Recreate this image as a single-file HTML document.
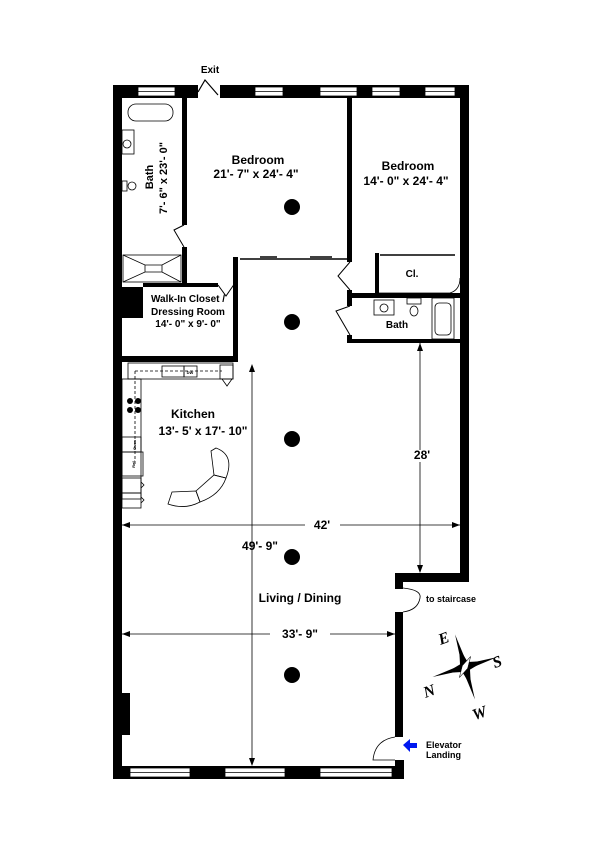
<!DOCTYPE html>
<html><head><meta charset="utf-8"><style>html,body{margin:0;padding:0;background:#fff}svg{display:block}text{font-family:"Liberation Sans",Arial,sans-serif;font-weight:bold;fill:#000}</style></head>
<body>
<svg width="600" height="847" viewBox="0 0 600 847" xmlns="http://www.w3.org/2000/svg">
<g fill="#000">
<rect x="113" y="85" width="85" height="13"/>
<rect x="220" y="85" width="249" height="13"/>
<rect x="113" y="85" width="9" height="694"/>
<rect x="460" y="85" width="9" height="497"/>
<rect x="395" y="573" width="74" height="9"/>
<rect x="395" y="573" width="8" height="16"/>
<rect x="395" y="612" width="8" height="125"/>
<rect x="395" y="760" width="9" height="19"/>
<rect x="113" y="766" width="291" height="13"/>
<rect x="113" y="693" width="17" height="42"/>
<rect x="113" y="287" width="30" height="31"/>
<rect x="182" y="98" width="5" height="127"/>
<rect x="182" y="247" width="5" height="40"/>
<rect x="143" y="283" width="75" height="4"/>
<rect x="233" y="257" width="5" height="105"/>
<rect x="122" y="356" width="116" height="6"/>
<rect x="347" y="98" width="5" height="164"/>
<rect x="347" y="290" width="5" height="16"/>
<rect x="347" y="293" width="113" height="5"/>
<rect x="347" y="335" width="5" height="8"/>
<rect x="347" y="339" width="113" height="4"/>
<rect x="375" y="253" width="4" height="40"/>
</g>
<g fill="#fff" stroke="#000" stroke-width="0.8">
<rect x="138" y="87" width="37" height="9"/>
<rect x="255" y="87" width="28" height="9"/>
<rect x="320" y="87" width="37" height="9"/>
<rect x="372" y="87" width="28" height="9"/>
<rect x="425" y="87" width="30" height="9"/>
<rect x="130" y="768" width="60" height="9"/>
<rect x="225" y="768" width="60" height="9"/>
<rect x="320" y="768" width="72" height="9"/>
</g>
<g stroke="#000" stroke-width="0.8" fill="none">
<line x1="138" y1="91.5" x2="175" y2="91.5"/><line x1="255" y1="91.5" x2="283" y2="91.5"/><line x1="320" y1="91.5" x2="357" y2="91.5"/><line x1="372" y1="91.5" x2="400" y2="91.5"/><line x1="425" y1="91.5" x2="455" y2="91.5"/>
<line x1="130" y1="772.5" x2="190" y2="772.5"/><line x1="225" y1="772.5" x2="285" y2="772.5"/><line x1="320" y1="772.5" x2="392" y2="772.5"/>
<polyline points="198,92 205,80 218,95" stroke-width="1.2"/>
<polyline points="184,225 174,230 184,247" stroke-width="1"/>
<polyline points="218,285 226,296 235,283" stroke-width="1"/>
<polyline points="350,262 338,276 350,290" stroke-width="1"/>
<polyline points="350,306 336,311 350,335" stroke-width="1"/>
<line x1="240" y1="259" x2="347" y2="259" stroke-width="1.5"/>
<line x1="260" y1="257" x2="277" y2="257" stroke-width="1.5"/>
<line x1="310" y1="257" x2="332" y2="257" stroke-width="1.5"/>
<line x1="380" y1="255" x2="455" y2="255" stroke-width="1.5"/>
<path d="M379 293 H450 Q460 290 460 278"/>
<rect x="128" y="104" width="45" height="17" rx="8"/>
<rect x="122" y="130" width="12" height="24"/>
<circle cx="127" cy="144" r="4"/>
<rect x="122" y="181" width="5" height="10"/><circle cx="132" cy="186" r="4"/>
<rect x="123" y="255" width="58" height="27"/>
<path d="M123 255 L145 265 H162 L181 255 M123 282 L145 272 H162 L181 282 M145 265 V272 M162 265 V272"/>
<rect x="374" y="300" width="20" height="15"/><circle cx="384" cy="308" r="4"/>
<rect x="407" y="298" width="14" height="6"/><ellipse cx="414" cy="311" rx="4" ry="5"/>
<rect x="432" y="298" width="22" height="41"/><rect x="435" y="303" width="16" height="32" rx="4"/>
<rect x="128" y="363" width="105" height="16"/>
<rect x="122" y="379" width="19" height="120"/>
<path d="M135 371 H222 M135 371 V465" stroke-dasharray="3,2"/>
<rect x="162" y="366" width="22" height="11"/>
<rect x="184" y="366" width="13" height="11"/>
<rect x="220" y="365" width="13" height="14"/>
<path d="M222 379 L227 386 L232 379"/>
<rect x="122" y="437" width="19" height="15"/>
<rect x="122" y="452" width="21" height="24"/>
<rect x="122" y="478" width="19" height="15"/><rect x="122" y="493" width="19" height="15"/>
<path d="M141 482 l3 3 l-3 3 M141 497 l3 3 l-3 3"/>
<path d="M216 448 Q235 455 226 478 L214 475 L211 451 Z"/>
<path d="M214 475 L226 478 Q220 495 200 502 L196 491 Z"/>
<path d="M196 491 L200 502 Q185 510 168 504 L172 492 Z"/>
<path d="M403 588 Q422 590 420 598 Q418 610 403 612"/>
<path d="M395 737 Q375 740 373 760 H395"/>
<line x1="252" y1="366" x2="252" y2="765"/>
<line x1="122" y1="525" x2="305" y2="525"/><line x1="340" y1="525" x2="460" y2="525"/>
<line x1="420" y1="343" x2="420" y2="450"/><line x1="420" y1="462" x2="420" y2="572"/>
<line x1="122" y1="634" x2="270" y2="634"/><line x1="330" y1="634" x2="395" y2="634"/>
</g>
<g fill="#000">
<path d="M252 364 l-3 8 h6z M252 766 l-3 -8 h6z M122 525 l8 -3 v6z M460 525 l-8 -3 v6z M420 343 l-3 8 h6z M420 573 l-3 -8 h6z M122 634 l8 -3 v6z M395 634 l-8 -3 v6z"/>
<circle cx="292" cy="207" r="8"/><circle cx="292" cy="322" r="8"/><circle cx="292" cy="439" r="8"/><circle cx="292" cy="557" r="8"/><circle cx="292" cy="675" r="8"/>
<circle cx="130" cy="401" r="3"/><circle cx="138" cy="401" r="3"/><circle cx="130" cy="410" r="3"/><circle cx="138" cy="410" r="3"/>
</g>
<g transform="translate(465,667)">
<polygon points="0,-20 4,-4 20,0 4,4 0,20 -4,4 -20,0 -4,-4" transform="rotate(-17)" fill="#000"/>
<polygon points="0,-34 3,-3 0,34 -3,3" transform="rotate(-17)" fill="#000"/>
<polygon points="0,-34 3,-3 0,34 -3,3" transform="rotate(73)" fill="#000"/>
<polygon points="0,-12 3,0 0,12 -3,0" transform="rotate(28)" fill="#fff" stroke="#000" stroke-width="0.5"/>
</g>
<g style="font-family:'Liberation Serif',serif;font-style:italic;font-weight:bold;font-size:16px">
<text x="438" y="643" style="font-family:'Liberation Serif',serif" transform="rotate(-20 445 637)">E</text>
<text x="492" y="667" style="font-family:'Liberation Serif',serif" transform="rotate(-20 497 660)">S</text>
<text x="423" y="696" style="font-family:'Liberation Serif',serif" transform="rotate(-20 430 690)">N</text>
<text x="472" y="718" style="font-family:'Liberation Serif',serif" transform="rotate(-20 480 712)">W</text>
</g>
<path d="M403 745 l7 -6 v4 h7 v5 h-7 v4z" fill="#0018f0"/>
<g font-size="11" text-anchor="middle">
<text x="210" y="73" font-size="10">Exit</text>
<text x="258" y="164" font-size="12">Bedroom</text>
<text x="256" y="178" font-size="12">21'- 7" x 24'- 4"</text>
<text x="408" y="170" font-size="12">Bedroom</text>
<text x="406" y="185" font-size="12">14'- 0" x 24'- 4"</text>
<text transform="translate(153,177) rotate(-90)" font-size="11">Bath</text>
<text transform="translate(167,178) rotate(-90)" font-size="11">7'- 6" x 23'- 0"</text>
<text x="188" y="302" font-size="10">Walk-In Closet /</text>
<text x="188" y="315" font-size="10">Dressing Room</text>
<text x="188" y="327" font-size="10">14'- 0" x 9'- 0"</text>
<text x="412" y="277" font-size="10">Cl.</text>
<text x="397" y="328" font-size="10">Bath</text>
<text x="193" y="418" font-size="12">Kitchen</text>
<text x="203" y="435" font-size="12">13'- 5' x 17'- 10"</text>
<text x="422" y="459" font-size="12">28'</text>
<text x="322" y="529" font-size="12">42'</text>
<text x="260" y="550" font-size="12">49'- 9"</text>
<text x="300" y="602" font-size="12">Living / Dining</text>
<text x="300" y="638" font-size="12">33'- 9"</text>
</g>
<g font-size="9">
<text x="426" y="602">to staircase</text>
<text x="426" y="748">Elevator</text>
<text x="426" y="758">Landing</text>
</g>
<g font-size="4" text-anchor="middle"><text x="133" y="448" transform="rotate(-90 133 445)">Oven</text><text x="133" y="466" transform="rotate(-90 133 464)">Ref.</text><text x="190" y="374">DW</text></g>
</svg>
</body></html>
